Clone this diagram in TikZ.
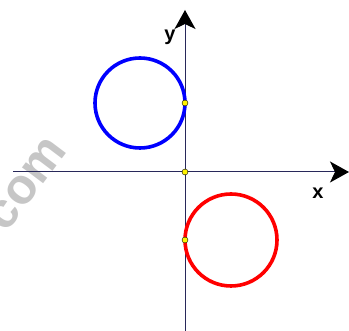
\documentclass[tikz,border=0pt]{standalone}
\usepackage{fontspec}
\setmainfont{Liberation Sans}
\usetikzlibrary{arrows.meta}

\definecolor{axiscol}{RGB}{40,40,90}
\definecolor{markgray}{RGB}{198,198,198}

\begin{document}
\begin{tikzpicture}[
    x=1pt, y=-1pt,
    axis/.style={draw=axiscol, line width=1pt,
      -{Stealth[length=19pt, width=21pt, inset=5pt, black]}},
    ring/.style={line width=3.6pt},
    dot/.style={circle, draw=black, fill=yellow, line width=0.4pt, minimum size=6pt, inner sep=0pt},
    lbl/.style={font=\bfseries\fontsize{20}{20}\selectfont, inner sep=0pt}
  ]
    \useasboundingbox (0,0) rectangle (349,331);

    % watermark
    \node[text=markgray, font=\bfseries\fontsize{50}{50}\selectfont, rotate=53, inner sep=0pt]
      (mark) at (27,184) {com};

    % axes
    \coordinate (xl) at (13,172);
    \coordinate (xr) at (349,172);
    \coordinate (yb) at (185,331);
    \coordinate (yt) at (185,10);
    \draw[axis] (xl) -- (xr);
    \draw[axis] (yb) -- (yt);
    \node[lbl] (ylab) at (170,37) {y};
    \node[lbl] (xlab) at (318,193) {x};

    % circles
    \draw[ring, blue] (140,103) circle[radius=45];
    \draw[ring, red] (231,240) circle[radius=46];

    % points on the y axis
    \node[dot] (p1) at (185,103) {};
    \node[dot] (p0) at (185,172) {};
    \node[dot] (p2) at (185,240) {};
\end{tikzpicture}
\end{document}
